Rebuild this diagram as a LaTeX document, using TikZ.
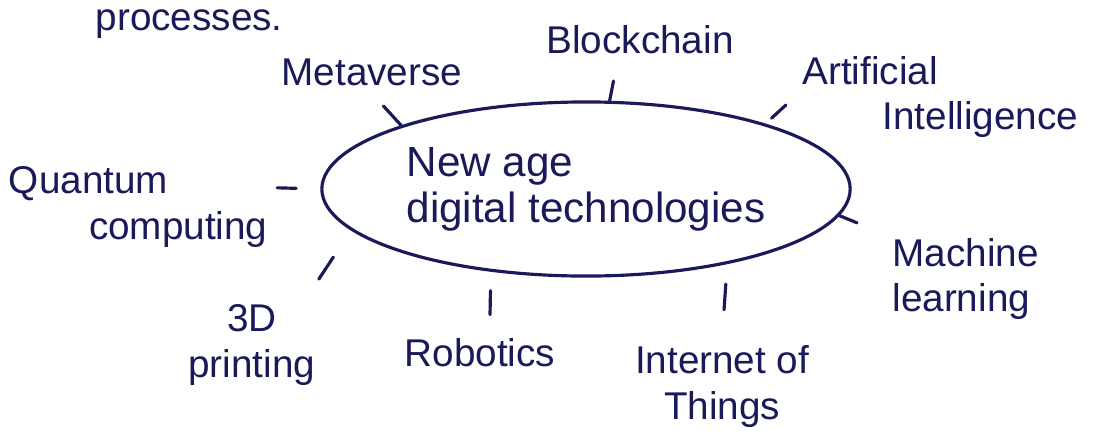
\documentclass[tikz,border=0pt]{standalone}
\usepackage{fontspec}
\setmainfont{Liberation Sans}
\usepackage{tikz}
\usetikzlibrary{shapes.geometric, positioning}
\definecolor{ink}{RGB}{26,26,90}

\begin{document}
\begin{tikzpicture}[x=0.01cm, y=-0.01cm,
    hub/.style={ellipse, draw=ink, line width=0.9pt, text=ink, inner sep=0pt, minimum width=5.28cm, minimum height=1.74cm, align=left, font=\fontsize{12}{13}\selectfont},
    tech/.style={text=ink, inner sep=2pt, font=\fontsize{11}{13}\selectfont},
    spoke/.style={draw=ink, line width=0.9pt, line cap=round}]
    \useasboundingbox[fill=white] (0,0) rectangle (1098,445);

    \node [hub] (hub) at (586,189) {New age\\digital technologies};
    \node [tech, anchor=base west, inner sep=0pt] (proc) at (95,30) {processes.};
    \node [tech, above=0.07cm of hub.north, xshift=-2.14cm] (meta) {Metaverse};
    \node [tech, above=0.39cm of hub.north, xshift=0.54cm] (block) {Blockchain};
    \node [tech, align=left, right=-0.57cm of hub.east, yshift=0.92cm] (ai) {Artificial\\\hspace*{0.8cm}Intelligence};
    \node [tech, align=left, right=0.33cm of hub.east, yshift=-0.9cm] (ml) {Machine\\learning};
    \node [tech, align=center, below=0.6cm of hub.south, xshift=1.36cm] (iot) {Internet of\\Things};
    \node [tech, below=0.53cm of hub.south, xshift=-1.06cm] (robo) {Robotics};
    \node [tech, align=center, below=0.19cm of hub.south, xshift=-3.34cm] (print) {3D\\printing};
    \node [tech, align=left, left=0.45cm of hub.west, yshift=-0.18cm] (quantum) {Quantum\\\hspace*{0.8cm}computing};

    \draw [spoke, shorten >=0.17cm] (hub.161.4) -- (meta.south);
    \draw [spoke, shorten >=0.2cm] (hub.75.8) -- (block.224);
    \draw [spoke, shorten <=0.08cm, shorten >=0.12cm] (hub.20.5) -- (ai.west);
    \draw [spoke, shorten >=0.3cm] (hub.-6.4) -- (ml.151);
    \draw [spoke, shorten <=0.2cm, shorten >=0.28cm] (hub.-28.5) -- (iot.north);
    \draw [spoke, shorten <=0.19cm, shorten >=0.16cm] (hub.-139.8) -- (robo.66);
    \draw [spoke, shorten <=0.32cm, shorten >=0.21cm] (hub.-170.7) -- (print.41);
    \draw [spoke, shorten <=0.24cm, shorten >=0.02cm] (hub.west) -- (quantum.8);
\end{tikzpicture}
\end{document}
